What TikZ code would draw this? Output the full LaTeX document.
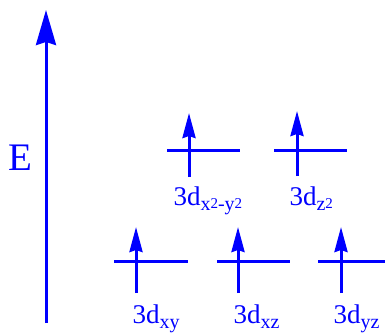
\documentclass[tikz,border=0pt]{standalone}
\usepackage{fontspec}
\setmainfont{Liberation Serif}
\usetikzlibrary{arrows.meta}

\newcommand{\subtxt}[1]{\raisebox{-5pt}{\fontsize{20}{20}\selectfont #1}}
\newcommand{\sqr}{\raisebox{2pt}{\fontsize{15}{15}\selectfont 2}}

\begin{document}
\begin{tikzpicture}[x=1pt,y=-1pt,line width=3pt,blue,
  level/.style={draw=blue},
  spin/.style={draw=blue,-{Stealth[length=25pt,width=13pt,inset=2pt]}},
  axis/.style={draw=blue,-{Stealth[length=35pt,width=20pt,inset=3pt]}},
  orblabel/.style={anchor=base west,inner sep=0pt,font=\fontsize{27}{27}\selectfont,text=blue},
  elabel/.style={inner sep=0pt,font=\fontsize{39}{39}\selectfont,text=blue}]
\useasboundingbox (0,0) rectangle (385,335);
% energy axis
\coordinate (ebot) at (46,323);
\coordinate (etop) at (46,10);
\draw[axis] (ebot) -- (etop);
\node[elabel] (E) at (20,158) {E};
% upper pair
\coordinate (u1l) at (167,150); \coordinate (u1r) at (240,150);
\coordinate (u1a) at (189,177); \coordinate (u1b) at (189,113);
\draw[level] (u1l) -- (u1r);
\draw[spin] (u1a) -- (u1b);
\node[orblabel] (lx2y2) at (172,205) {3d\subtxt{x\sqr-y\sqr}};
\coordinate (u2l) at (274,150); \coordinate (u2r) at (347,150);
\coordinate (u2a) at (297,176); \coordinate (u2b) at (297,111);
\draw[level] (u2l) -- (u2r);
\draw[spin] (u2a) -- (u2b);
\node[orblabel] (lz2) at (288,205) {3d\subtxt{z\sqr}};
% lower three
\coordinate (d1l) at (114,261); \coordinate (d1r) at (188,261);
\coordinate (d1a) at (136,293); \coordinate (d1b) at (136,227);
\draw[level] (d1l) -- (d1r);
\draw[spin] (d1a) -- (d1b);
\node[orblabel] (lxy) at (131,323) {3d\subtxt{xy}};
\coordinate (d2l) at (217,261); \coordinate (d2r) at (290,261);
\coordinate (d2a) at (238,293); \coordinate (d2b) at (238,227);
\draw[level] (d2l) -- (d2r);
\draw[spin] (d2a) -- (d2b);
\node[orblabel] (lxz) at (232,323) {3d\subtxt{xz}};
\coordinate (d3l) at (318,261); \coordinate (d3r) at (392,261);
\coordinate (d3a) at (341,293); \coordinate (d3b) at (341,227);
\draw[level] (d3l) -- (d3r);
\draw[spin] (d3a) -- (d3b);
\node[orblabel] (lyz) at (332,323) {3d\subtxt{yz}};
\end{tikzpicture}
\end{document}
